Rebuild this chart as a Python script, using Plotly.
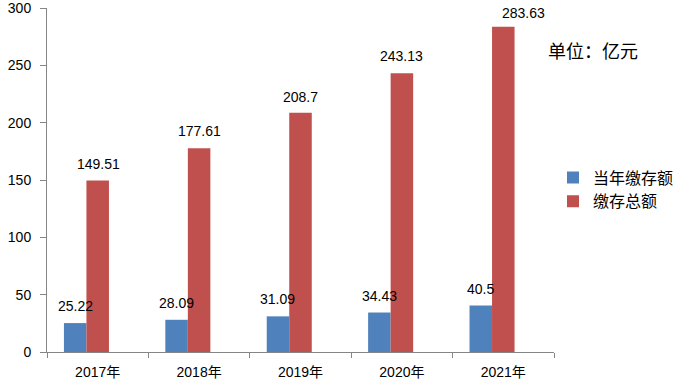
import plotly.graph_objects as go

categories = ["2017年", "2018年", "2019年", "2020年", "2021年"]
annual_deposit = [25.22, 28.09, 31.09, 34.43, 40.5]      # 当年缴存额
total_deposit = [149.51, 177.61, 208.7, 243.13, 283.63]  # 缴存总额
series_names = ["当年缴存额", "缴存总额"]
y_ticks = [0, 50, 100, 150, 200, 250, 300]

BLUE = "#4F81BD"
RED = "#C0504D"
FONT = "Liberation Sans, Noto Sans CJK SC, sans-serif"
BAR_W = 0.222

L, R, T, B = 47, 126, 8, 32
PLOT_W = 680 - L - R
PLOT_H = 384 - T - B

fig = go.Figure()
fig.add_trace(go.Bar(
    x=categories, y=annual_deposit, name=series_names[0],
    marker=dict(color=BLUE, line=dict(width=0)),
    width=BAR_W, offset=-1.5 * BAR_W,
))
fig.add_trace(go.Bar(
    x=categories, y=total_deposit, name=series_names[1],
    marker=dict(color=RED, line=dict(width=0)),
    width=BAR_W, offset=-0.5 * BAR_W,
))

# data labels
px_per_cat = PLOT_W / len(categories)
label_font = dict(family=FONT, size=14, color="#000000")
red_extra_shift = [1, 0, 0, 0, 20]
red_yshift = [17, 17, 16, 17, 14]
for i, c in enumerate(categories):
    fig.add_annotation(x=c, y=annual_deposit[i], text=str(annual_deposit[i]),
                       showarrow=False, xref="x", yref="y",
                       xshift=-1.0 * BAR_W * px_per_cat, yshift=17,
                       yanchor="middle", font=label_font)
    fig.add_annotation(x=c, y=total_deposit[i], text=str(total_deposit[i]),
                       showarrow=False, xref="x", yref="y",
                       xshift=red_extra_shift[i], yshift=red_yshift[i],
                       yanchor="middle", font=label_font)

fig.add_annotation(x=(546 - L) / PLOT_W, y=(384 - B - 52) / PLOT_H,
                   xref="paper", yref="paper",
                   text="单位：亿元", showarrow=False, xanchor="left", yanchor="middle",
                   font=dict(family=FONT, size=18, color="#000000"))

fig.update_layout(
    width=680, height=384,
    margin=dict(l=L, r=R, t=T, b=B, autoexpand=False),
    paper_bgcolor="white", plot_bgcolor="white",
    barmode="overlay",
    showlegend=True,
    legend=dict(
        xref="container", yref="container",
        x=553 / 680, y=1 - 189.5 / 384, xanchor="left", yanchor="middle",
        font=dict(family=FONT, size=16, color="#000000"),
        bgcolor="rgba(0,0,0,0)",
    ),
    xaxis=dict(
        type="category", range=[-0.5, 4.5], automargin=False,
        showline=True, linecolor="#868686", linewidth=1,
        ticks="outside", tickson="boundaries", ticklen=5, tickcolor="#868686",
        showgrid=False, zeroline=False,
        tickfont=dict(family=FONT, size=14, color="#000000"),
        ticklabelstandoff=7, ticklabeloverflow="allow",
    ),
    yaxis=dict(
        range=[0, 300], tickvals=y_ticks, automargin=False,
        showline=True, linecolor="#868686", linewidth=1,
        ticks="outside", ticklen=6, tickcolor="#868686",
        showgrid=False, zeroline=False,
        tickfont=dict(family=FONT, size=14, color="#000000"),
        ticklabelstandoff=6, ticklabeloverflow="allow",
    ),
)

fig.write_html(
    "out.html",
    config={"displayModeBar": False},
    post_script="document.body.style.margin='0';document.body.style.overflow='hidden';",
)
